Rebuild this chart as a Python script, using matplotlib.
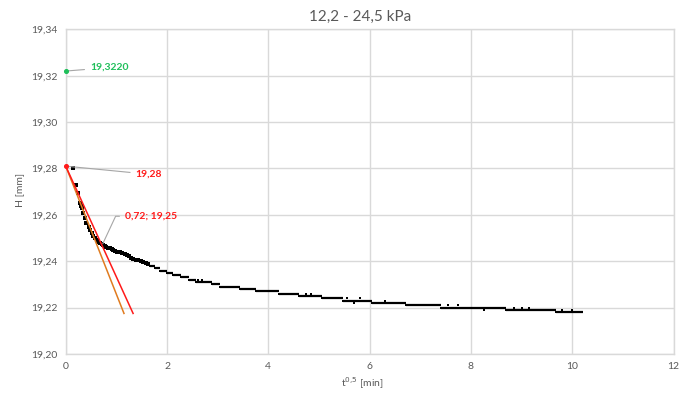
import matplotlib
matplotlib.use("Agg")
import matplotlib.pyplot as plt

# ---- data ----
title = "12,2 - 24,5 kPa"
x_ticks = [0, 2, 4, 6, 8, 10, 12]
y_ticks = [19.20, 19.22, 19.24, 19.26, 19.28, 19.30, 19.32, 19.34]

# early, sparse measurement points (t^0.5 [min], H [mm])
t_early = [0.14, 0.20, 0.24, 0.28, 0.30, 0.32, 0.35, 0.38, 0.41, 0.45, 0.48, 0.51,
           0.54, 0.58, 0.61, 0.64, 0.68, 0.71, 0.73, 0.77, 0.80, 0.84, 0.88, 0.91,
           0.94, 0.97, 1.02, 1.07, 1.12, 1.17, 1.21, 1.25, 1.29, 1.33, 1.38, 1.43,
           1.48, 1.53, 1.58, 1.63]
h_early = [19.2800, 19.2728, 19.2695, 19.2650, 19.2640, 19.2628, 19.2606, 19.2585,
           19.2563, 19.2549, 19.2534, 19.2520, 19.2509, 19.2499, 19.2491,
           19.2484, 19.2478, 19.2475, 19.2472, 19.2466, 19.2462, 19.2458, 19.2455,
           19.2452, 19.2449, 19.2446, 19.2442, 19.2438, 19.2434, 19.2430, 19.2426,
           19.2422, 19.2416, 19.2410, 19.2407, 19.2404, 19.2401, 19.2398, 19.2394,
           19.2390]

# later, dense measurements: constant levels (resolution 0.001 mm)
step_level = [19.238, 19.237, 19.236, 19.235, 19.234, 19.233, 19.232, 19.231,
              19.230, 19.229, 19.228, 19.227, 19.226, 19.225, 19.224, 19.223,
              19.222, 19.221, 19.220, 19.219, 19.218]
step_start = [1.66, 1.76, 1.86, 1.99, 2.12, 2.27, 2.43, 2.57, 2.88, 3.04, 3.45,
              3.76, 4.22, 4.60, 5.06, 5.47, 6.05, 6.72, 7.41, 8.70, 9.68]
step_end = [1.76, 1.86, 1.99, 2.12, 2.27, 2.43, 2.57, 2.88, 3.04, 3.45, 3.76,
            4.22, 4.60, 5.06, 5.47, 6.05, 6.72, 7.41, 8.70, 9.68, 10.22]

# isolated readings off the current level
t_noise = [2.62, 2.70, 4.75, 4.85, 5.55, 5.70, 5.80, 6.30, 7.55, 7.75, 8.25,
           8.85, 9.00, 9.15, 9.80, 10.00]
h_noise = [19.232, 19.232, 19.226, 19.226, 19.224, 19.222, 19.224, 19.223,
           19.221, 19.221, 19.219, 19.220, 19.220, 19.220, 19.219, 19.219]

# initial height, tangents
h0_point = (0.0, 19.322)
origin_point = (0.0, 19.281)
tangent_red_end = (1.33, 19.2175)
tangent_orange_end = (1.15, 19.2175)
intersect_point = (0.72, 19.247)

label_h0 = "19,3220"
label_origin = "19,28"
label_intersect = "0,72; 19,25"

# ---- figure ----
plt.rcParams['font.family'] = ['Lato', 'DejaVu Sans']
fig = plt.figure(figsize=(6.79, 3.96), dpi=100)
ax = fig.add_axes([0.0968, 0.106, 0.8952, 0.820])

gray = "#595959"
gridc = "#d9d9d9"

ax.set_xlim(0, 12)
ax.set_ylim(19.20, 19.34)
ax.set_xticks(x_ticks)
ax.set_yticks(y_ticks)
ax.set_xticklabels([str(v) for v in x_ticks])
ax.set_yticklabels([f"{v:.2f}".replace(".", ",") for v in y_ticks])
ax.tick_params(length=0, colors=gray, labelsize=7.5, pad=6)
ax.grid(True, color=gridc, lw=1)
ax.set_axisbelow(True)
for s in ax.spines.values():
    s.set_color(gridc)
    s.set_linewidth(1)

# measurements
ax.hlines(step_level, step_start, step_end, colors="black", lw=1.6, zorder=3)
ax.scatter(step_start, step_level, s=4, marker="s", color="black", zorder=3, linewidths=0)
ax.scatter(t_early, h_early, s=5, marker="s", color="black", zorder=3, linewidths=0)
ax.scatter(t_noise, h_noise, s=4, marker="s", color="black", zorder=3, linewidths=0)

# tangents
ax.plot([origin_point[0], tangent_orange_end[0]], [origin_point[1], tangent_orange_end[1]],
        color="#e07b1f", lw=1.1, zorder=4)
ax.plot([origin_point[0], tangent_red_end[0]], [origin_point[1], tangent_red_end[1]],
        color="#ff1a1a", lw=1.1, zorder=5)

ax.scatter([origin_point[0]], [origin_point[1]], s=7, color="#ff1a1a", zorder=6, clip_on=False)
ax.scatter([h0_point[0]], [h0_point[1]], s=7, color="#1fbf5a", zorder=6, clip_on=False)

# annotations
ax.annotate(label_h0, xy=h0_point, xytext=(0.48, 19.3235), color="#1fbf5a",
            fontsize=7.5, fontweight="bold", va="center", ha="left",
            arrowprops=dict(arrowstyle="-", color="#a6a6a6", lw=0.8,
                            shrinkA=2, shrinkB=1))
ax.annotate(label_origin, xy=origin_point, xytext=(1.38, 19.2775), color="#ff1a1a",
            fontsize=7.5, fontweight="bold", va="center", ha="left",
            arrowprops=dict(arrowstyle="-", color="#a6a6a6", lw=0.8,
                            shrinkA=2, shrinkB=1))
ax.annotate(label_intersect, xy=intersect_point, xytext=(1.17, 19.2594), color="#ff1a1a",
            fontsize=7.5, fontweight="bold", va="center", ha="left",
            arrowprops=dict(arrowstyle="-", color="#a6a6a6", lw=0.8,
                            shrinkA=2, shrinkB=1,
                            connectionstyle="angle,angleA=0,angleB=65,rad=0"))

fig.text(360 / 679, 1 - 17 / 396, title, ha="center", va="center", fontsize=11, color=gray)
fig.text(362 / 679, 1 - 383 / 396, "t$^{0{,}5}$ [min]", ha="center", va="center",
         fontsize=7.5, color=gray)
fig.text(20 / 679, 1 - 190 / 396, "H [mm]", ha="center", va="center",
         fontsize=7.5, color=gray, rotation=90)

fig.savefig("out.png", dpi=100)
